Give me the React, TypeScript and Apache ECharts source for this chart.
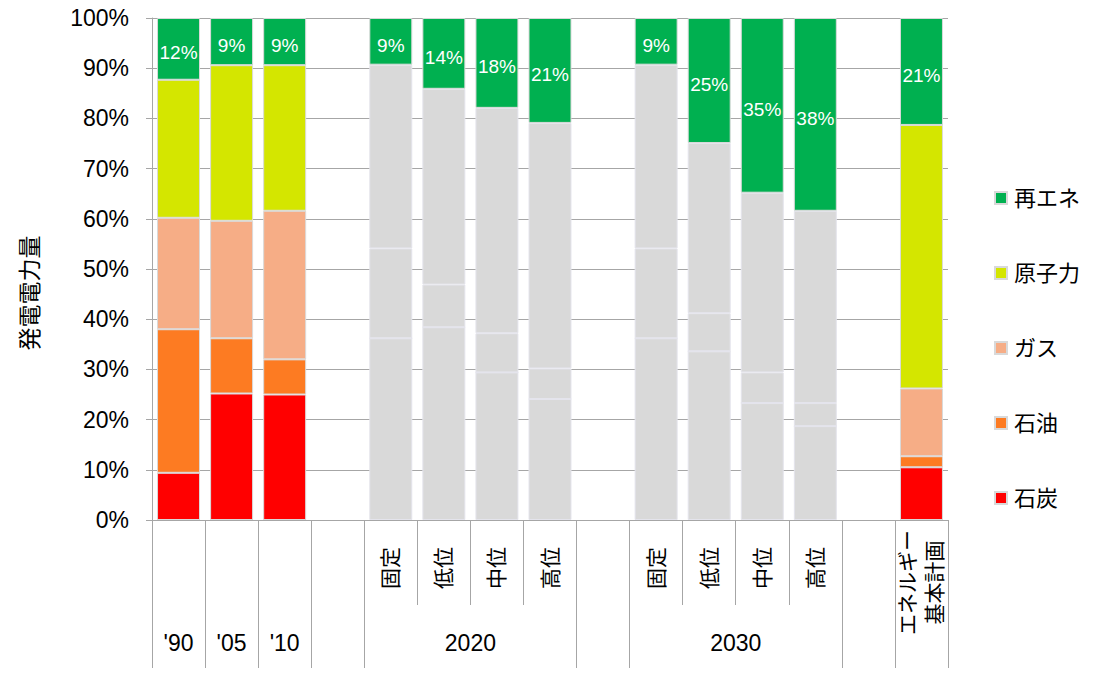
import React, { useEffect, useRef } from "react";
import * as echarts from "echarts";

// ---- data ----
const categories = ["'90", "'05", "'10", "gap1", "2020固定", "2020低位", "2020中位", "2020高位", "gap2", "2030固定", "2030低位", "2030中位", "2030高位", "gap3", "エネルギー基本計画"];
const subLabels = ["", "", "", "", "固定", "低位", "中位", "高位", "", "固定", "低位", "中位", "高位", "", "エネルギー\n基本計画"];
const groupLabels = ["'90", "'05", "'10", "", "2020", "", "2030", "", ""];
const groupSpans = [1, 1, 1, 1, 4, 1, 4, 1, 1];
const scenarioIdx = [4, 5, 6, 7, 9, 10, 11, 12]; // shown in grey

const coal = [9.4, 25.2, 25.0, null, 36.2, 38.4, 29.4, 24.1, null, 36.2, 33.6, 23.3, 18.7, null, 10.5];
const oil = [28.6, 11.0, 7.0, null, 0, 0, 0, 0, null, 0, 0, 0, 0, null, 2.2];
const gas = [22.2, 23.4, 29.6, null, 17.9, 8.5, 7.8, 6.1, null, 17.9, 7.6, 6.1, 4.6, null, 13.5];
const nuclear = [27.5, 31.0, 29.0, null, 36.6, 39.0, 44.9, 48.9, null, 36.6, 33.9, 35.8, 38.3, null, 52.5];
const renew = [12.3, 9.4, 9.4, null, 9.3, 14.1, 17.9, 20.9, null, 9.3, 24.9, 34.8, 38.4, null, 21.3];

const seriesNames = ["石炭", "石油", "ガス", "原子力", "再エネ"];
const seriesColors = ["#ff0000", "#fd7b22", "#f6ad86", "#d4e600", "#00b050"];
const legendOrder = ["再エネ", "原子力", "ガス", "石油", "石炭"];
const yTicks = { min: 0, max: 100, interval: 10 };

const FONT = "'Liberation Sans', Arial, 'Noto Sans CJK JP', sans-serif";
const GRID_COLOR = "#a6a6a6";

export default function App() {
  const ref = useRef<HTMLDivElement>(null);
  useEffect(() => {
    document.body.style.margin = "0";
    if (!ref.current) return;
    const chart = echarts.init(ref.current, undefined, { renderer: "svg" });

    const boundaries: number[] = [0];
    const centers: number[] = [];
    const centerLabel: Record<string, string> = {};
    groupSpans.forEach((s, i) => {
      const start = boundaries[boundaries.length - 1];
      const c = start + s / 2;
      centers.push(c);
      centerLabel[String(c)] = groupLabels[i];
      boundaries.push(start + s);
    });

    const allValues = [coal, oil, gas, nuclear, renew];
    const series = allValues.map((vals, si) => ({
      name: seriesNames[si],
      type: "bar",
      stack: "total",
      barCategoryGap: "19%",
      itemStyle: { color: seriesColors[si], borderColor: "#d9d9d9", borderWidth: 1 },
      data: vals.map((v, i) =>
        scenarioIdx.includes(i) && si < 4
          ? { value: v, itemStyle: { color: "#d9d9d9", borderColor: "#e4e4ec", borderWidth: 1 } }
          : v
      ),
      label:
        si === 4
          ? {
              show: true,
              position: "inside",
              offset: [0, 4],
              color: "#ffffff",
              fontSize: 19,
              fontFamily: FONT,
              formatter: (p: any) => (p.value == null ? "" : Math.round(p.value) + "%"),
            }
          : { show: false },
    }));

    chart.setOption({
      animation: false,
      textStyle: { fontFamily: FONT },
      grid: { left: 152, right: 145, top: 18, bottom: 158, containLabel: false, outerBoundsMode: "none" },
      legend: {
        data: legendOrder,
        orient: "vertical",
        left: 989,
        top: 181,
        itemWidth: 12,
        itemHeight: 12,
        itemGap: 51,
        icon: "rect",
        textStyle: { fontSize: 22, color: "#000", fontFamily: FONT, lineHeight: 24, padding: [0, 0, 0, 2] },
      },
      xAxis: [
        {
          type: "category",
          data: categories,
          boundaryGap: true,
          axisLine: { show: true, lineStyle: { color: GRID_COLOR } },
          axisTick: { show: true, interval: 0, length: 85, lineStyle: { color: GRID_COLOR } },
          axisLabel: {
            interval: 0,
            rotate: 90,
            margin: 10,
            color: "#000",
            fontSize: 21,
            fontFamily: FONT,
            formatter: (_v: string, i: number) => {
              const s = subLabels[i];
              if (!s) return "";
              if (s.includes("\n")) return s.split("\n").map((l) => `{p|${l}}`).join("\n");
              return `{s|${s}}`;
            },
            rich: {
              s: { fontSize: 21, padding: [0, 17, 0, 0], fontFamily: FONT, color: "#000" },
              p: { fontSize: 21, lineHeight: 27, align: "center", fontFamily: FONT, color: "#000" },
            },
          },
          splitLine: { show: false },
        },
        {
          type: "value",
          position: "bottom",
          offset: 85,
          min: 0,
          max: 15,
          axisLine: { show: false },
          axisTick: { show: true, customValues: boundaries, length: 63, lineStyle: { color: GRID_COLOR } },
          axisLabel: {
            customValues: centers,
            margin: 26,
            color: "#000",
            fontSize: 23,
            fontFamily: FONT,
            formatter: (v: number) => centerLabel[String(v)] ?? "",
          },
          splitLine: { show: false },
        },
      ],
      yAxis: {
        type: "value",
        min: yTicks.min,
        max: yTicks.max,
        interval: yTicks.interval,
        name: "発電電力量",
        nameLocation: "middle",
        nameRotate: 90,
        nameGap: 111,
        nameTextStyle: { fontSize: 23, color: "#000", fontFamily: FONT, padding: [0, 48, 0, 0] },
        axisLine: { show: true, lineStyle: { color: GRID_COLOR } },
        axisTick: { show: true, length: 6, lineStyle: { color: GRID_COLOR } },
        axisLabel: { formatter: "{value}%", fontSize: 23, color: "#000", margin: 23, fontFamily: FONT },
        splitLine: { show: true, lineStyle: { color: GRID_COLOR, width: 1 } },
      },
      series,
    });
    return () => chart.dispose();
  }, []);
  return <div ref={ref} style={{ width: 1093, height: 678 }} />;
}
